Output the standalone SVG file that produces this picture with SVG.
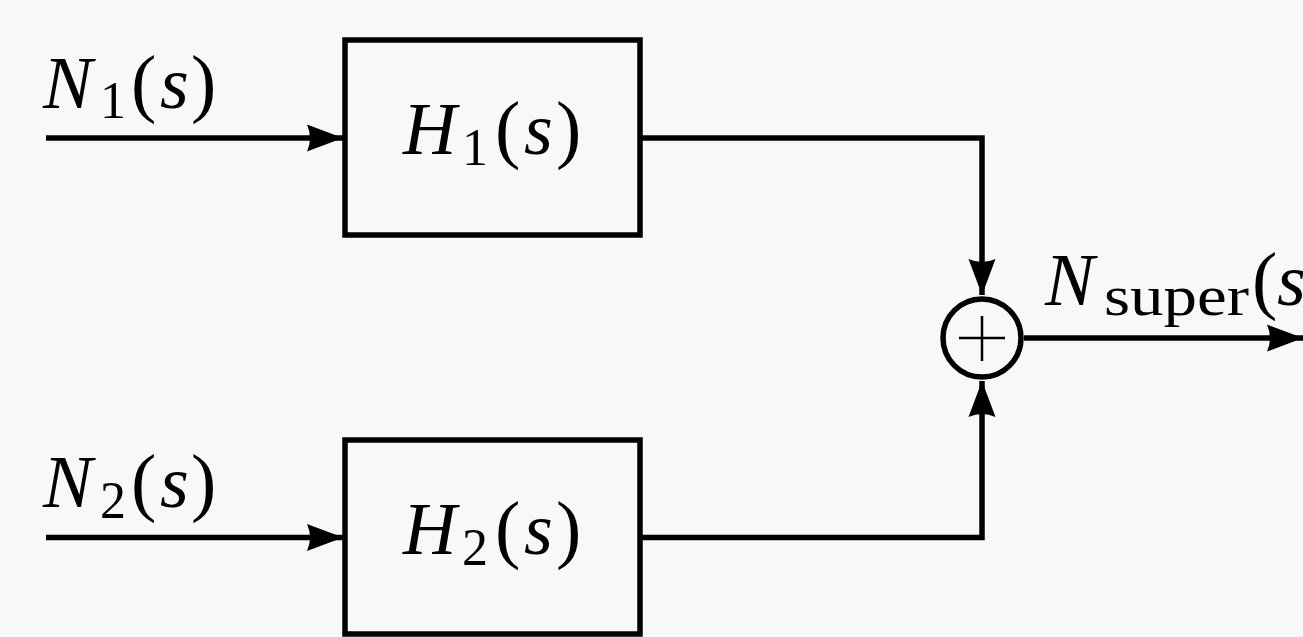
<svg xmlns="http://www.w3.org/2000/svg" width="1303" height="637" viewBox="0 0 1303 637">
<style>
.blk{fill:none;stroke:#000;stroke-width:5.5}
.wire{fill:none;stroke:#000;stroke-width:5.5;marker-end:url(#arr)}
.lbl{fill:#000}
.it{font-style:italic;font-size:74px}
.rm{font-style:normal;font-size:76px}
.sub{font-style:normal;font-size:52px}
</style>
<defs>
<marker id="arr" markerUnits="userSpaceOnUse" markerWidth="50" markerHeight="40" refX="40" refY="20" orient="auto" overflow="visible">
<path d="M4,6.5 L40,20 L4,33.5 Q10,20 4,6.5 Z" fill="#000"/>
</marker>
</defs>
<rect width="1303" height="637" fill="#f8f8f8"/>
<g id="connectors">
<path class="wire" d="M46,138 H343"/>
<path class="wire" d="M46,537.5 H343"/>
<path class="wire" d="M642,138 H982 V295"/>
<path class="wire" d="M642,537.5 H982 V381"/>
<path class="wire" d="M1024,338 H1303"/>
</g>
<g id="label-n1">
<text class="lbl" font-family="'Liberation Serif', 'DejaVu Serif', serif"><tspan class="it" x="43" y="108">N</tspan><tspan class="sub" x="100" y="118">1</tspan><tspan class="rm" x="131" y="108">(</tspan><tspan class="it" x="160" y="108">s</tspan><tspan class="rm" x="191" y="108">)</tspan></text>
</g>
<g id="label-n2">
<text class="lbl" font-family="'Liberation Serif', 'DejaVu Serif', serif"><tspan class="it" x="43" y="507">N</tspan><tspan class="sub" x="100" y="518">2</tspan><tspan class="rm" x="131" y="507">(</tspan><tspan class="it" x="160" y="507">s</tspan><tspan class="rm" x="191" y="507">)</tspan></text>
</g>
<g id="h1">
<rect class="blk" x="345" y="40" width="295" height="195"/>
<text class="lbl" font-family="'Liberation Serif', 'DejaVu Serif', serif"><tspan class="it" x="403" y="154">H</tspan><tspan class="sub" x="462" y="165">1</tspan><tspan class="rm" x="495" y="154">(</tspan><tspan class="it" x="524" y="154">s</tspan><tspan class="rm" x="556" y="154">)</tspan></text>
</g>
<g id="h2">
<rect class="blk" x="345" y="440" width="295" height="194"/>
<text class="lbl" font-family="'Liberation Serif', 'DejaVu Serif', serif"><tspan class="it" x="403" y="554">H</tspan><tspan class="sub" x="462" y="565">2</tspan><tspan class="rm" x="495" y="554">(</tspan><tspan class="it" x="524" y="554">s</tspan><tspan class="rm" x="556" y="554">)</tspan></text>
</g>
<g id="sum">
<circle class="blk" cx="982" cy="338" r="39"/>
<path d="M959,338 H1005 M982,316 V361" stroke="#000" stroke-width="2.5" fill="none"/>
</g>
<g id="label-out">
<text class="lbl" font-family="'Liberation Serif', 'DejaVu Serif', serif"><tspan class="it" x="1045" y="305">N</tspan><tspan class="sub" x="1104" y="315" style="font-size:56px" textLength="145" lengthAdjust="spacingAndGlyphs">super</tspan><tspan class="rm" x="1252" y="305">(</tspan><tspan class="it" x="1277" y="305">s</tspan></text>
</g>
</svg>
